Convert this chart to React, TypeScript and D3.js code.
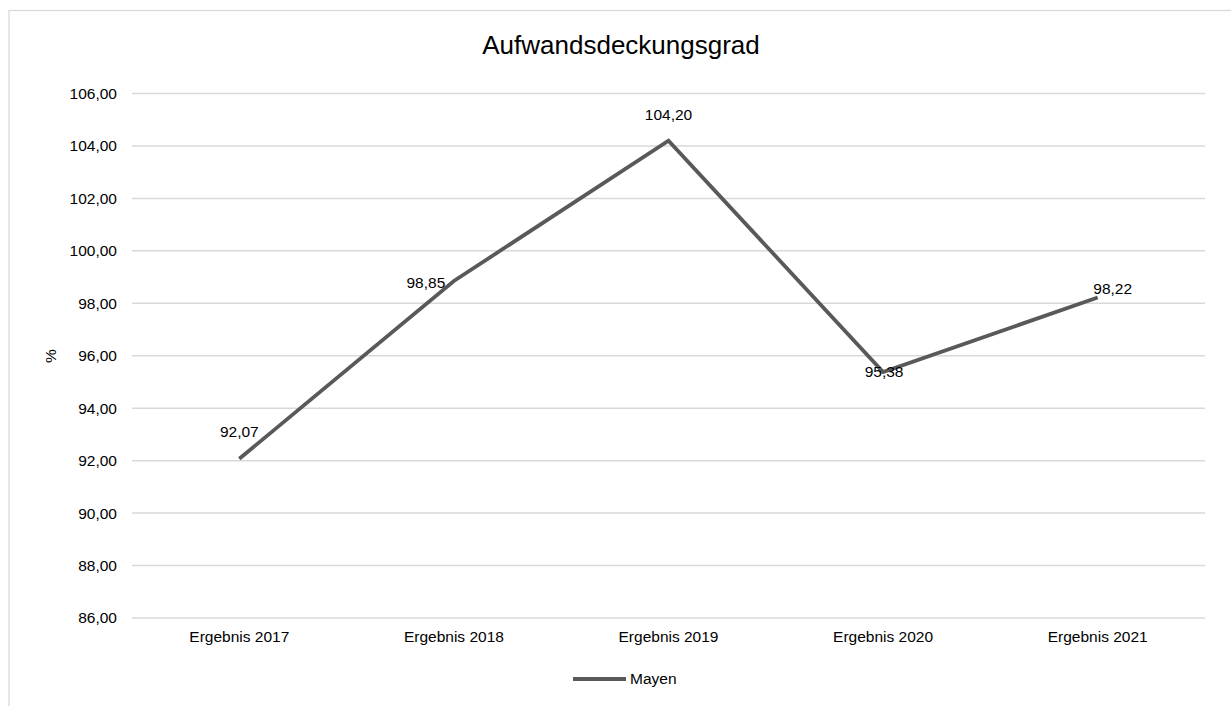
import React from "react";
import * as d3 from "d3";

const title = "Aufwandsdeckungsgrad";
const categories = ["Ergebnis 2017", "Ergebnis 2018", "Ergebnis 2019", "Ergebnis 2020", "Ergebnis 2021"];
const values = [92.07, 98.85, 104.2, 95.38, 98.22];
const seriesName = "Mayen";
const yTicks = [86, 88, 90, 92, 94, 96, 98, 100, 102, 104, 106];
const yLabel = "%";
// label placement (Excel-like positions): dx, dy relative to point
const labelOffsets: [number, number][] = [
  [0, -27],
  [-28, 2],
  [0, -26],
  [1, 0],
  [15, -9],
];

const W = 1231;
const H = 706;
const FONT = "'Liberation Sans', Arial, Helvetica, sans-serif";

export default function App() {
  const plotL = 132;
  const plotR = 1205;
  const plotT = 93.5;
  const plotB = 618;
  const x = d3.scalePoint<string>().domain(categories).range([plotL, plotR]).padding(0.5);
  const y = d3.scaleLinear().domain([86, 106]).range([plotB, plotT]);
  const fmt = (v: number) => v.toFixed(2).replace(".", ",");
  const line = d3
    .line<number>()
    .x((_, i) => x(categories[i])!)
    .y((d) => y(d));

  return (
    <svg
      width={W}
      height={H}
      style={{ position: "absolute", left: 0, top: 0, background: "#fff" }}
      fontFamily={FONT}
    >
      <rect x={9} y={10.5} width={W + 20} height={H + 20} fill="#fff" stroke="#d9d9d9" strokeWidth={1.3} />
      <text x={621} y={54} textAnchor="middle" fontSize={26} fill="#000">
        {title}
      </text>
      {yTicks.map((t) => (
        <g key={t}>
          <line x1={plotL} x2={plotR} y1={y(t)} y2={y(t)} stroke="#d9d9d9" strokeWidth={1.5} />
          <text x={117} y={y(t)} dy="0.35em" textAnchor="end" fontSize={15.5} fill="#000">
            {fmt(t)}
          </text>
        </g>
      ))}
      <text
        transform={`translate(51,356) rotate(-90)`}
        textAnchor="middle"
        dy="0.35em"
        fontSize={15.5}
        fill="#000"
      >
        {yLabel}
      </text>
      {categories.map((c) => (
        <text key={c} x={x(c)} y={642} textAnchor="middle" fontSize={15.5} fill="#000">
          {c}
        </text>
      ))}
      <path d={line(values) ?? ""} fill="none" stroke="#595959" strokeWidth={3.8} strokeLinejoin="miter" />
      {values.map((v, i) => (
        <text
          key={i}
          x={x(categories[i])! + labelOffsets[i][0]}
          y={y(v) + labelOffsets[i][1]}
          dy="0.35em"
          textAnchor="middle"
          fontSize={15.5}
          fill="#000"
        >
          {fmt(v)}
        </text>
      ))}
      <line x1={573} x2={626} y1={679} y2={679} stroke="#595959" strokeWidth={3.8} />
      <text x={630} y={679} dy="0.35em" fontSize={15.5} fill="#000">
        {seriesName}
      </text>
    </svg>
  );
}
